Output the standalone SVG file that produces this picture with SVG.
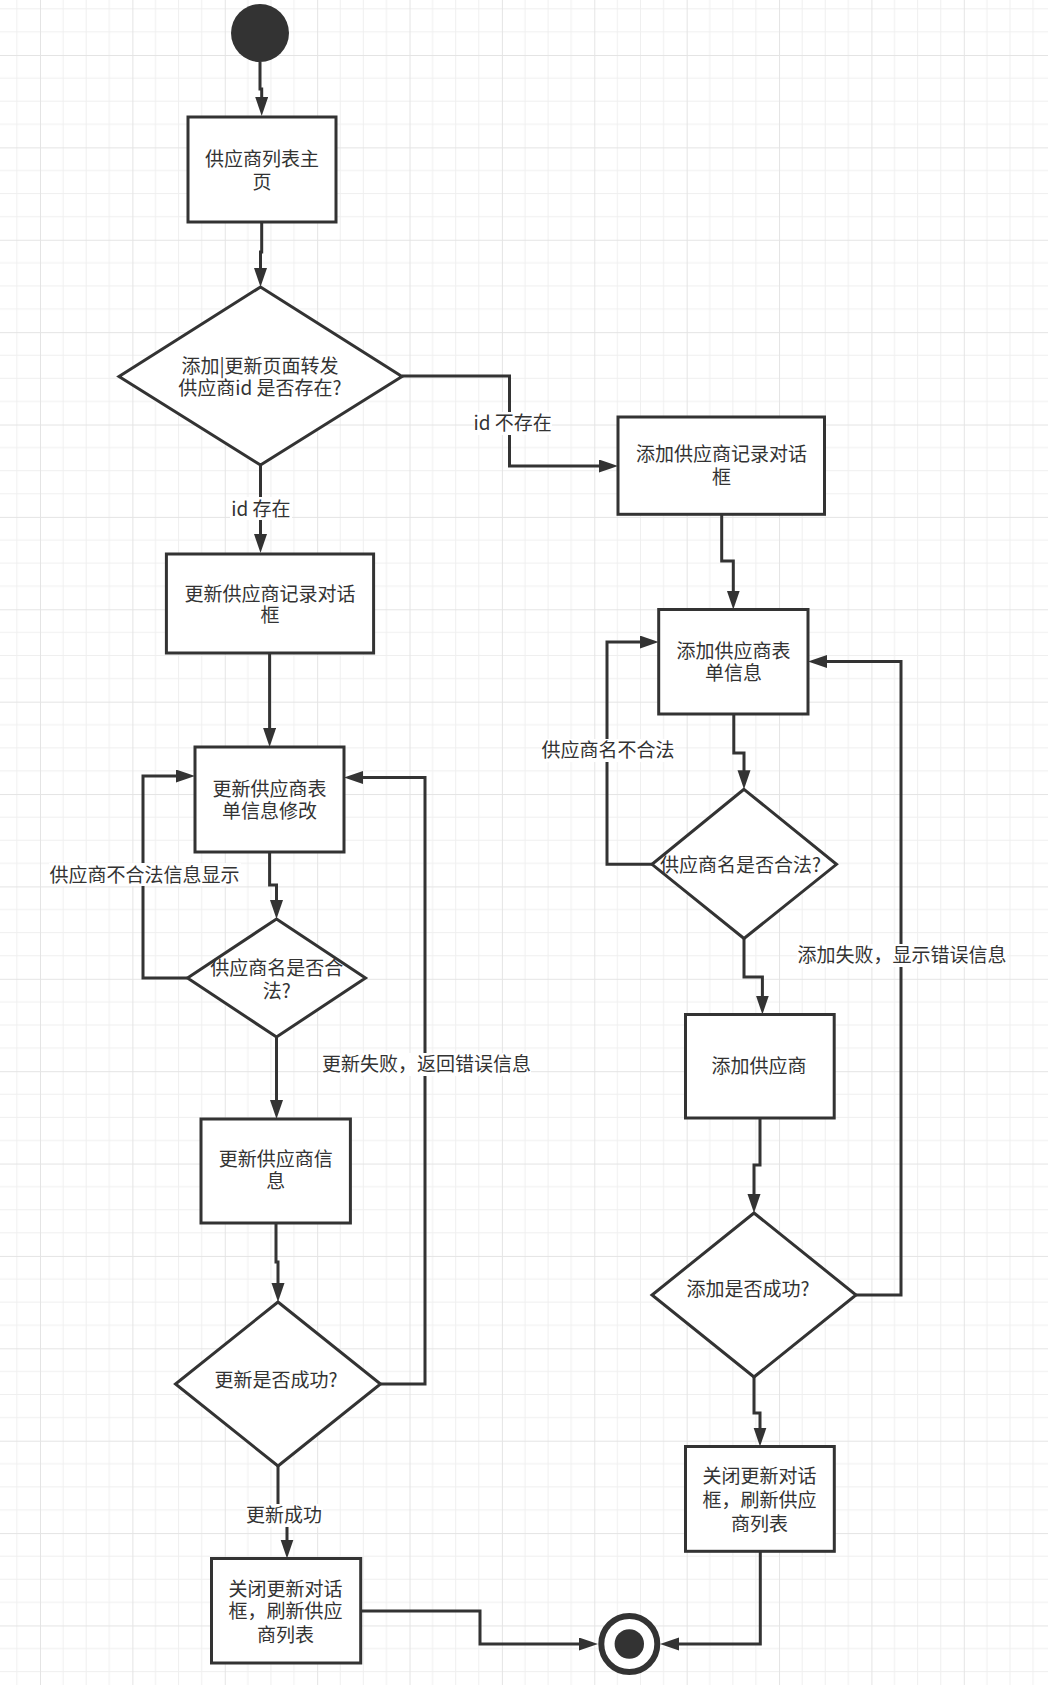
<svg xmlns="http://www.w3.org/2000/svg" width="1048" height="1685" viewBox="0 0 1048 1685">
<defs>
<pattern id="grid" patternUnits="userSpaceOnUse" x="40" y="55" width="92.38" height="92.38">
<path d="M23.095,0 V92.38 M46.19,0 V92.38 M69.285,0 V92.38 M0,23.095 H92.38 M0,46.19 H92.38 M0,69.285 H92.38" stroke="#efefef" stroke-width="1" fill="none"/>
<path d="M0.5,0 V92.38 M0,0.5 H92.38" stroke="#e4e4e4" stroke-width="1" fill="none"/>
</pattern>
<marker id="arr" markerUnits="userSpaceOnUse" markerWidth="20" markerHeight="14" refX="7" refY="6.5" orient="auto">
<path d="M0,0 L19,6.5 L0,13 z" fill="#333"/>
</marker>
</defs>
<style>
.shape{fill:#fff;stroke:#333;stroke-width:3}
.t{font-family:"Noto Sans CJK SC","Noto Sans",sans-serif;font-size:19px;fill:#333;text-anchor:middle}
.edge{fill:none;stroke:#333;stroke-width:3}
.lbg{fill:#fff}
</style>
<rect width="1048" height="1685" fill="#fff"/>
<rect width="1048" height="1685" fill="url(#grid)"/>

<g id="connectors">
<path class="edge" d="M260,62 V89 H261.7 V104" marker-end="url(#arr)"/>
<path class="edge" d="M261.7,222 V252 H260.5 V275" marker-end="url(#arr)"/>
<path class="edge" d="M402,376 H509.5 V466 H606" marker-end="url(#arr)"/>
<path class="edge" d="M260.5,465 V541" marker-end="url(#arr)"/>
<path class="edge" d="M269.6,653 V735" marker-end="url(#arr)"/>
<path class="edge" d="M269.6,852 V885 H276.5 V907" marker-end="url(#arr)"/>
<path class="edge" d="M187.5,978 H143 V776 H183" marker-end="url(#arr)"/>
<path class="edge" d="M276.5,1037 V1107" marker-end="url(#arr)"/>
<path class="edge" d="M276,1223 V1262 H278 V1290" marker-end="url(#arr)"/>
<path class="edge" d="M380.5,1384 H425 V777.5 H356" marker-end="url(#arr)"/>
<path class="edge" d="M278,1466 V1512 H287 V1546.5" marker-end="url(#arr)"/>
<path class="edge" d="M360.7,1611 H480 V1644 H586" marker-end="url(#arr)"/>
<path class="edge" d="M721.7,514.3 V561 H733.3 V597.5" marker-end="url(#arr)"/>
<path class="edge" d="M733.8,714 V753 H744 V777.3" marker-end="url(#arr)"/>
<path class="edge" d="M652,864.3 H607 V642 H646.7" marker-end="url(#arr)"/>
<path class="edge" d="M744,938.5 V977 H762.4 V1002.5" marker-end="url(#arr)"/>
<path class="edge" d="M760,1118 V1165 H754 V1201" marker-end="url(#arr)"/>
<path class="edge" d="M856,1295 H901 V661.4 H820" marker-end="url(#arr)"/>
<path class="edge" d="M754,1377 V1413 H760 V1434.5" marker-end="url(#arr)"/>
<path class="edge" d="M760.3,1551.3 V1644 H672" marker-end="url(#arr)"/>

<rect class="lbg" x="474" y="412" width="78" height="23"/>
<text class="t" x="512.7" y="430">id 不存在</text>
<rect class="lbg" x="230" y="497" width="62" height="23"/>
<text class="t" x="261" y="515.6">id 存在</text>
<rect class="lbg" x="541" y="739" width="134" height="23"/>
<text class="t" x="608" y="757">供应商名不合法</text>
<rect class="lbg" x="49" y="863" width="192" height="23"/>
<text class="t" x="144.6" y="881.6">供应商不合法信息显示</text>
<rect class="lbg" x="797" y="944" width="210" height="23"/>
<text class="t" x="902" y="962.4">添加失败，显示错误信息</text>
<rect class="lbg" x="321" y="1053" width="210" height="23"/>
<text class="t" x="426.5" y="1071">更新失败，返回错误信息</text>
<rect class="lbg" x="246" y="1504" width="77" height="23"/>
<text class="t" x="284" y="1522">更新成功</text>
</g>

<g id="start">
<circle cx="260" cy="33" r="29" fill="#333"/>
</g>

<g id="node-list-home">
<rect class="shape" x="188" y="117" width="148" height="105"/>
<text class="t" x="262" y="166">供应商列表主</text>
<text class="t" x="262" y="189">页</text>
</g>

<g id="node-id-exists">
<polygon class="shape" points="260.5,287 402,376.5 260.5,465 119,376.5"/>
<text class="t" x="260" y="372.6">添加|更新页面转发</text>
<text class="t" x="260" y="394.5">供应商id 是否存在?</text>
</g>

<g id="node-add-dialog">
<rect class="shape" x="618" y="417" width="206.5" height="97.3"/>
<text class="t" x="721.5" y="461">添加供应商记录对话</text>
<text class="t" x="721.5" y="483.7">框</text>
</g>

<g id="node-update-dialog">
<rect class="shape" x="166.4" y="554" width="207.2" height="99"/>
<text class="t" x="270" y="600.6">更新供应商记录对话</text>
<text class="t" x="270" y="622">框</text>
</g>

<g id="node-add-form">
<rect class="shape" x="658.7" y="609.5" width="149.3" height="104.5"/>
<text class="t" x="733.5" y="657.7">添加供应商表</text>
<text class="t" x="733.5" y="680.2">单信息</text>
</g>

<g id="node-update-form">
<rect class="shape" x="195" y="747" width="149" height="105"/>
<text class="t" x="269.6" y="796">更新供应商表</text>
<text class="t" x="269.6" y="818">单信息修改</text>
</g>

<g id="node-add-name-valid">
<polygon class="shape" points="744,789.3 836.5,864.3 744,938.5 652,864.3"/>
<text class="t" x="740.5" y="872">供应商名是否合法?</text>
</g>

<g id="node-update-name-valid">
<polygon class="shape" points="276.5,919 365.5,978 276.5,1037 187.5,978"/>
<text class="t" x="276.8" y="974.5">供应商名是否合</text>
<text class="t" x="276.8" y="997.7">法?</text>
</g>

<g id="node-add-supplier">
<rect class="shape" x="685.5" y="1014.5" width="148.7" height="103.5"/>
<text class="t" x="759" y="1073">添加供应商</text>
</g>

<g id="node-update-supplier">
<rect class="shape" x="201" y="1119" width="149.4" height="104"/>
<text class="t" x="275.7" y="1165.7">更新供应商信</text>
<text class="t" x="275.7" y="1188.3">息</text>
</g>

<g id="node-add-success">
<polygon class="shape" points="754,1213 856,1295 754,1377 652,1295"/>
<text class="t" x="748" y="1296">添加是否成功?</text>
</g>

<g id="node-update-success">
<polygon class="shape" points="278,1302 380.5,1384 278,1466 175.5,1384"/>
<text class="t" x="276" y="1387.4">更新是否成功?</text>
</g>

<g id="node-add-close">
<rect class="shape" x="685.5" y="1446.5" width="148.8" height="104.8"/>
<text class="t" x="759.5" y="1483">关闭更新对话</text>
<text class="t" x="759.5" y="1507">框，刷新供应</text>
<text class="t" x="759.5" y="1530.7">商列表</text>
</g>

<g id="node-update-close">
<rect class="shape" x="211.5" y="1558.5" width="149.2" height="104.5"/>
<text class="t" x="285.5" y="1595.6">关闭更新对话</text>
<text class="t" x="285.5" y="1618.4">框，刷新供应</text>
<text class="t" x="285.5" y="1641.6">商列表</text>
</g>

<g id="end">
<circle cx="629.3" cy="1644" r="28" fill="#fff" stroke="#333" stroke-width="6"/>
<circle cx="629.3" cy="1644" r="14.7" fill="#333"/>
</g>
</svg>
